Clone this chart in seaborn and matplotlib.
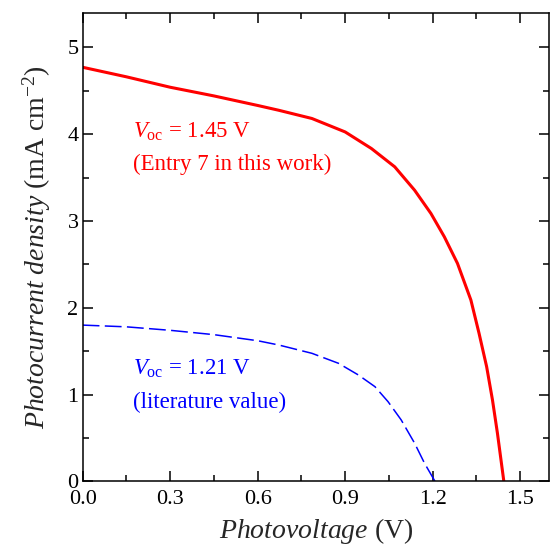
import numpy as np
import pandas as pd
import seaborn as sb
import matplotlib.pyplot as plt
from matplotlib.ticker import MultipleLocator, FormatStrFormatter

# data
v_entry7 = [0.0, 0.15, 0.3, 0.45, 0.6, 0.672, 0.786, 0.9, 0.99, 1.07, 1.138,
            1.194, 1.24, 1.285, 1.331, 1.359, 1.385, 1.405, 1.422, 1.444]
j_entry7 = [4.77, 4.66, 4.54, 4.44, 4.33, 4.275, 4.18, 4.025, 3.834, 3.623, 3.354,
            3.086, 2.817, 2.511, 2.089, 1.705, 1.321, 0.938, 0.555, 0.0]

v_lit = [0.0, 0.15, 0.3, 0.45, 0.6, 0.672, 0.786, 0.877, 0.945, 1.002, 1.047,
         1.092, 1.138, 1.172, 1.208]
j_lit = [1.80, 1.78, 1.74, 1.69, 1.62, 1.571, 1.475, 1.36, 1.226, 1.091, 0.918,
         0.708, 0.44, 0.209, 0.0]

x_ticks = [0.0, 0.3, 0.6, 0.9, 1.2, 1.5]
y_ticks = [0, 1, 2, 3, 4, 5]

df_entry7 = pd.DataFrame({'V': v_entry7, 'J': j_entry7})
df_lit = pd.DataFrame({'V': v_lit, 'J': j_lit})

# theme and fonts
sb.set_theme(style='ticks')
plt.rcParams['font.family'] = ['Liberation Serif', 'DejaVu Serif']
plt.rcParams['mathtext.fontset'] = 'custom'
plt.rcParams['mathtext.rm'] = 'Liberation Serif'
plt.rcParams['mathtext.it'] = 'Liberation Serif:italic'
plt.rcParams['mathtext.bf'] = 'Liberation Serif:bold'
plt.rcParams['lines.solid_joinstyle'] = 'round'
plt.rcParams['lines.dash_joinstyle'] = 'round'

fig, ax = plt.subplots(1, 1, figsize=(5.51, 5.47), dpi=100)
fig.subplots_adjust(left=0.15, right=0.997, bottom=0.12, top=0.977)

# curves
sb.lineplot(data=df_entry7, x='V', y='J', color='#ff0000', linewidth=2.2, ax=ax)
sb.lineplot(data=df_lit, x='V', y='J', color='#0000ff', linewidth=1.1, ax=ax,
            linestyle=(0, (11, 3.5)))

# annotations
ax.text(0.172, 4.03, r'$V_{\rm oc}$ = 1.45 V', color='#ff0000', fontsize=16.5, va='center')
ax.text(0.172, 3.65, '(Entry 7 in this work)', color='#ff0000', fontsize=16.5, va='center')
ax.text(0.172, 1.30, r'$V_{\rm oc}$ = 1.21 V', color='#0000ff', fontsize=16.5, va='center')
ax.text(0.172, 0.91, '(literature value)', color='#0000ff', fontsize=16.5, va='center')

# axes
ax.set_xlim(0, 1.6)
ax.set_ylim(0, 5.4)
ax.set_xticks(x_ticks)
ax.set_yticks(y_ticks)
ax.xaxis.set_major_formatter(FormatStrFormatter('%.1f'))
ax.yaxis.set_major_formatter(FormatStrFormatter('%d'))
ax.xaxis.set_minor_locator(MultipleLocator(0.15))
ax.yaxis.set_minor_locator(MultipleLocator(0.5))
ax.tick_params(which='both', direction='in', top=True, right=True,
               labelsize=16, colors='black', width=1.1)
ax.tick_params(axis='x', pad=6)
ax.tick_params(axis='y', pad=3)
ax.tick_params(which='major', length=7)
ax.tick_params(which='minor', length=4)
for b in ['top', 'bottom', 'left', 'right']:
    ax.spines[b].set_linewidth(1.1)
    ax.spines[b].set_color('black')

ax.set_xlabel(r'$\it{Photovoltage}$ (V)', fontsize=20, labelpad=5)
ax.set_ylabel(r'$\it{Photocurrent\ density}$ (mA cm$^{-2}$)', fontsize=20, labelpad=10)

plt.savefig('out.png', dpi=100)
